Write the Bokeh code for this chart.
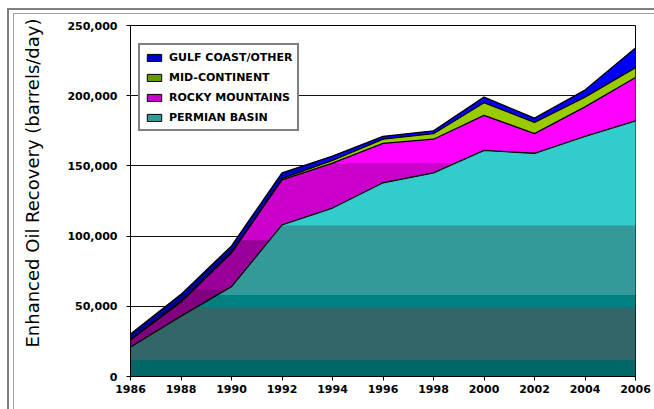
import numpy as np
from bokeh.plotting import figure
from bokeh.models import Range1d, FixedTicker, NumeralTickFormatter, Legend, LegendItem, Title
from bokeh.embed import file_html
from bokeh.resources import INLINE

# ---------------- data (barrels/day) ----------------
years = [1986, 1988, 1990, 1992, 1994, 1996, 1998, 2000, 2002, 2004, 2006]
permian_basin = [21000, 43000, 64000, 108000, 120000, 138000, 145000, 161000, 159000, 171000, 182000]
rocky_mountains = [5000, 10000, 24000, 32000, 32000, 28000, 24000, 25000, 14000, 21000, 31000]
mid_continent = [300, 500, 500, 1000, 2000, 3000, 4000, 9000, 8000, 7000, 7000]
gulf_coast_other = [4000, 5000, 4500, 4000, 3000, 2000, 2000, 4000, 3000, 5000, 14000]
series_labels = ["PERMIAN BASIN", "ROCKY MOUNTAINS", "MID-CONTINENT", "GULF COAST/OTHER"]
y_ticks = [0, 50000, 100000, 150000, 200000, 250000]
x_ticks = [1986, 1988, 1990, 1992, 1994, 1996, 1998, 2000, 2002, 2004, 2006]
y_label = "Enhanced Oil Recovery (barrels/day)"

# ---------------- styles ----------------
# colour steps (lower bound of each step, colour) imitating the banded fill of the original
band_styles = [
    [(0, "#006666"), (11500, "#336666"), (49000, "#008080"), (58000, "#339999"), (107500, "#33CCCC")],
    [(0, "#800080"), (62000, "#990099"), (97000, "#CC00CC"), (152000, "#FF00FF")],
    [(0, "#99CC00")],
    [(0, "#000099"), (97000, "#0000CC"), (152000, "#0000FF")],
]
legend_colors = ["#339999", "#CC00CC", "#669900", "#0000CC"]
FONT = "DejaVu Sans"

p = figure(width=654, height=409, output_backend="svg", toolbar_location=None,
           x_range=Range1d(1986, 2006), y_range=Range1d(0, 250000),
           min_border_left=130, min_border_right=19, min_border_top=25, min_border_bottom=33)
p.styles = {
    "background-image": "linear-gradient(#808080,#808080), linear-gradient(#808080,#808080), "
                        "linear-gradient(#a0a0a0,#a0a0a0), linear-gradient(#a0a0a0,#a0a0a0)",
    "background-size": "100% 2px, 2px 100%, 100% 1px, 1px 100%",
    "background-position": "7px 8px, 7px 8px, 13px 13px, 13px 13px",
    "background-repeat": "no-repeat",
}
p.border_fill_color = None
p.background_fill_color = "white"
p.outline_line_color = "black"
p.outline_line_width = 1


def crossings(xs, ys, levels):
    out = []
    for i in range(len(xs) - 1):
        for lv in levels:
            a, b = ys[i] - lv, ys[i + 1] - lv
            if a * b < 0:
                out.append(xs[i] + (lv - ys[i]) / (ys[i + 1] - ys[i]) * (xs[i + 1] - xs[i]))
    return out


series = [permian_basin, rocky_mountains, mid_continent, gulf_coast_other]
xs = np.array(years, dtype=float)
lower = np.zeros(len(years))
tops = []
for vals, bands in zip(series, band_styles):
    upper = lower + np.array(vals, dtype=float)
    levels = [lo for lo, _ in bands if lo > 0]
    xx = sorted(set(list(xs) + crossings(list(xs), list(lower), levels) + crossings(list(xs), list(upper), levels)))
    xx = np.array(xx)
    lo_i = np.interp(xx, xs, lower)
    up_i = np.interp(xx, xs, upper)
    for lo, col in bands:
        y1 = np.maximum(lo_i, lo)
        y2 = np.maximum(up_i, lo)
        p.varea(x=xx, y1=y1, y2=y2, fill_color=col, fill_alpha=1)
    tops.append(upper)
    lower = upper

for top in tops:
    p.line(x=years, y=top, line_color="black", line_width=1.3)

# legend proxies (degenerate, zero-size marks at the origin corner)
items = []
for lab, col in zip(series_labels, legend_colors):
    r = p.quad(left=years[:1], right=years[:1], top=[0], bottom=[0],
               fill_color=col, line_color="black", line_width=1)
    items.append(LegendItem(label=lab, renderers=[r]))
items = items[::-1]
legend = Legend(items=items, location=(8, 245))
legend.border_line_color = "black"
legend.border_line_width = 2
legend.background_fill_color = "white"
legend.background_fill_alpha = 1
legend.label_text_font = FONT
legend.label_text_font_style = "bold"
legend.label_text_font_size = "11px"
legend.label_text_color = "black"
legend.glyph_width = 18
legend.glyph_height = 9
legend.label_height = 14
legend.spacing = 6
legend.padding = 5
legend.margin = 0
legend.label_standoff = 6
p.add_layout(legend)

# grid
p.xgrid.grid_line_color = None
p.ygrid.grid_line_color = "#111111"
p.ygrid.grid_line_width = 1
p.ygrid.ticker = FixedTicker(ticks=y_ticks)

# axes
for ax in (p.xaxis[0], p.yaxis[0]):
    ax.axis_line_color = "black"
    ax.axis_line_width = 1
    ax.major_tick_line_color = "black"
    ax.major_tick_in = 0
    ax.major_tick_out = 4
    ax.minor_tick_line_color = None
    ax.major_label_text_font = FONT
    ax.major_label_text_font_style = "bold"
    ax.major_label_text_font_size = "11px"
    ax.major_label_text_color = "black"

p.xaxis.ticker = FixedTicker(ticks=x_ticks)
p.xaxis.major_label_standoff = 4
p.yaxis.ticker = FixedTicker(ticks=y_ticks)
p.yaxis.formatter = NumeralTickFormatter(format="0,0")
p.yaxis.major_label_standoff = 9

# y-axis title as a left-side title (allows an offset along the axis)
ytitle = Title(text=y_label, align="right", vertical_align="top", offset=-7, standoff=40,
               text_font=FONT, text_font_size="18px", text_font_style="normal",
               text_color="black")
p.add_layout(ytitle, "left")

open("out.html", "w").write(file_html(p, INLINE))
